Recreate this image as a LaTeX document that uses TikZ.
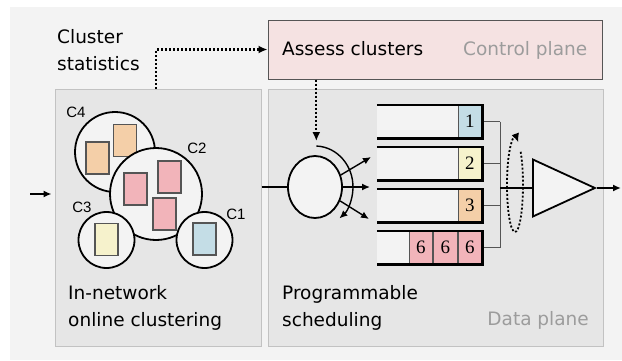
\documentclass[tikz,border=0pt]{standalone}
\usepackage{fontspec}
\setmainfont{DejaVu Sans}
\newfontfamily\labelfont{Liberation Sans}
\newfontfamily\numfont{Liberation Serif}
\usetikzlibrary{shapes.geometric}
\usetikzlibrary{arrows.meta}
\pgfdeclarelayer{panellayer}
\pgfdeclarelayer{edgelayer}
\pgfdeclarelayer{nodelayer}
\pgfsetlayers{panellayer,edgelayer,nodelayer,main}
\definecolor{bggray}{HTML}{F3F3F3}
\definecolor{panelgray}{HTML}{E6E6E6}
\definecolor{panelline}{HTML}{C2C2C2}
\definecolor{ctrlpink}{HTML}{F5E2E2}
\definecolor{boxline}{HTML}{555555}
\definecolor{cellblue}{HTML}{C4DDE6}
\definecolor{cellyellow}{HTML}{F6F2CC}
\definecolor{cellorange}{HTML}{F4CFA8}
\definecolor{cellpink}{HTML}{F2B4BA}
\definecolor{planetext}{HTML}{9C9C9C}
\tikzstyle{panel}=[rectangle,fill=panelgray,draw=panelline,line width=1,inner sep=0]
\tikzstyle{ctrl}=[rectangle,fill=ctrlpink,draw=boxline,line width=1,inner sep=0]
\tikzstyle{caption}=[font=\fontsize{18.5}{26.7}\selectfont,align=left,inner sep=0]
\tikzstyle{planename}=[caption,text=planetext]
\tikzstyle{cluster}=[circle,fill=bggray,draw=black,line width=1.8,inner sep=0]
\tikzstyle{clabel}=[font=\labelfont\fontsize{15}{15}\selectfont,inner sep=0]
\tikzstyle{packet}=[rectangle,draw=boxline,line width=1.2,minimum width=23,minimum height=32,inner sep=0]
\tikzstyle{queue}=[rectangle,fill=bggray,minimum width=105,minimum height=33,inner sep=0]
\tikzstyle{queueline}=[draw=black,line width=2.6]
\tikzstyle{cell}=[rectangle,draw=boxline,line width=1,minimum width=23.5,minimum height=33,inner sep=0,font=\numfont\fontsize{19}{19}\selectfont]
\tikzstyle{wire}=[draw=boxline,line width=1]
\tikzstyle{flow}=[-{Latex[length=8pt,width=7pt]},draw=black,line width=1.4]
\tikzstyle{stat}=[-{Latex[length=9pt,width=8pt]},draw=black,line width=2.2,dash pattern=on 2pt off 2pt]

\begin{document}
\begin{tikzpicture}[x=1pt,y=1pt]
	\useasboundingbox (0,0) rectangle (622,360);
	\begin{pgfonlayer}{panellayer}
		\fill[bggray] (10,0) rectangle (622,353);
		\node [style=panel, minimum width=206, minimum height=257] (lp) at (158,142.5) {};
		\node [style=panel, minimum width=335, minimum height=257] (rp) at (435.5,142.5) {};
		\node [style=ctrl, minimum width=334, minimum height=59] (cb) at (435,310.5) {};
	\end{pgfonlayer}
	\begin{pgfonlayer}{nodelayer}
		% clusters
		\node [style=cluster, minimum size=80] (k4) at (115,208) {};
		\node [style=packet, fill=cellorange] (p41) at (97.5,202) {};
		\node [style=packet, fill=cellorange] (p42) at (125,219.5) {};
		\node [style=cluster, minimum size=92] (k2) at (156,166) {};
		\node [style=packet, fill=cellpink] (p21) at (135.5,171) {};
		\node [style=packet, fill=cellpink] (p22) at (169.5,183) {};
		\node [style=packet, fill=cellpink] (p23) at (164.5,146) {};
		\node [style=cluster, minimum size=56] (k3) at (106.5,120) {};
		\node [style=packet, fill=cellyellow] (p3) at (106.5,120.5) {};
		\node [style=cluster, minimum size=56] (k1) at (204.5,120) {};
		\node [style=packet, fill=cellblue] (p1) at (204.5,121) {};
		\node [style=clabel] (l4) at (76,248) {C4};
		\node [style=clabel] (l2) at (197,212) {C2};
		\node [style=clabel] (l3) at (82,153) {C3};
		\node [style=clabel] (l1) at (236,146) {C1};
		% scheduler
		\node [ellipse, fill=bggray, draw=black, line width=1.8, minimum width=54, minimum height=62, inner sep=0] (sched) at (315,173) {};
		% queues
		\foreach \n/\y/\c in {1/238.5/cellblue, 2/196.5/cellyellow, 3/154.5/cellorange} {
			\node [style=queue] (q\n) at (429.5,\y) {};
			\node [style=cell, fill=\c, anchor=east] (c\n) at (q\n.east) {\n};
		}
		\node [style=queue] (q4) at (429.5,112.5) {};
		\node [style=cell, fill=cellpink, anchor=east] (c4a) at (q4.east) {6};
		\node [style=cell, fill=cellpink, anchor=east] (c4b) at (c4a.west) {6};
		\node [style=cell, fill=cellpink, anchor=east] (c4c) at (c4b.west) {6};
		\foreach \n in {1,...,4}
			\draw [style=queueline] (q\n.north west) -- (q\n.north east) -- (q\n.south east) -- (q\n.south west);
		\node [isosceles triangle, isosceles triangle stretches, fill=bggray, draw=black, line width=1.8, minimum width=57, minimum height=62, inner sep=0, anchor=west] (amp) at (532,172) {};
		% text
		\node [style=caption, anchor=base west] (assess) at (282,305) {Assess clusters};
		\node [style=planename, anchor=base east] (cpl) at (587.5,305) {Control plane};
		\node [style=planename, anchor=base east] (dpl) at (589,35) {Data plane};
		\node [style=caption, anchor=north west] (stats) at (57,330.5) {Cluster\\statistics};
		\node [style=caption, anchor=north west] (onl) at (68,74.5) {In-network\\online clustering};
		\node [style=caption, anchor=north west] (prog) at (282,74.5) {Programmable\\scheduling};
	\end{pgfonlayer}
	\begin{pgfonlayer}{edgelayer}
		\coordinate (in) at (30,166);
		\coordinate (f1) at (371,203);
		\coordinate (f2) at (370,173);
		\coordinate (f3) at (369,141);
		\coordinate (bus) at (500,172);
		\coordinate (out) at (621,172);
		\draw [style=flow, shorten >=3] (in) -- (in -| lp.west);
		\draw [draw=black, line width=1.4] (lp.east |- sched) -- (sched.west);
		\draw [style=flow] (sched.25) -- (f1);
		\draw [style=flow] (sched.east) -- (f2);
		\draw [style=flow] (sched.-29) -- (f3);
		\foreach \n in {1,...,4}
			\draw [style=wire] (q\n.east) -- (q\n.east -| bus);
		\draw [style=wire] (q1.east -| bus) -- (q4.east -| bus);
		\draw [draw=black, line width=1.8] (bus) -- (amp.west);
		\draw [style=flow, line width=1.6] (amp.apex) -- (out);
	\end{pgfonlayer}
	\draw [style=flow] (sched.center) ++(88:38 and 41) coordinate (arctop)
		arc [start angle=88, end angle=-50, x radius=38, y radius=41];
	\draw [style=stat] (arctop |- cb.south) -- ([yshift=5]arctop);
	\draw [style=stat] ([xshift=-2]lp.north) |- (cb.west);
	\draw [style=stat, line width=1.8] (515,175) ++(45:8 and 47)
		arc [start angle=45, end angle=-295, x radius=8, y radius=47];
\end{tikzpicture}
\end{document}
